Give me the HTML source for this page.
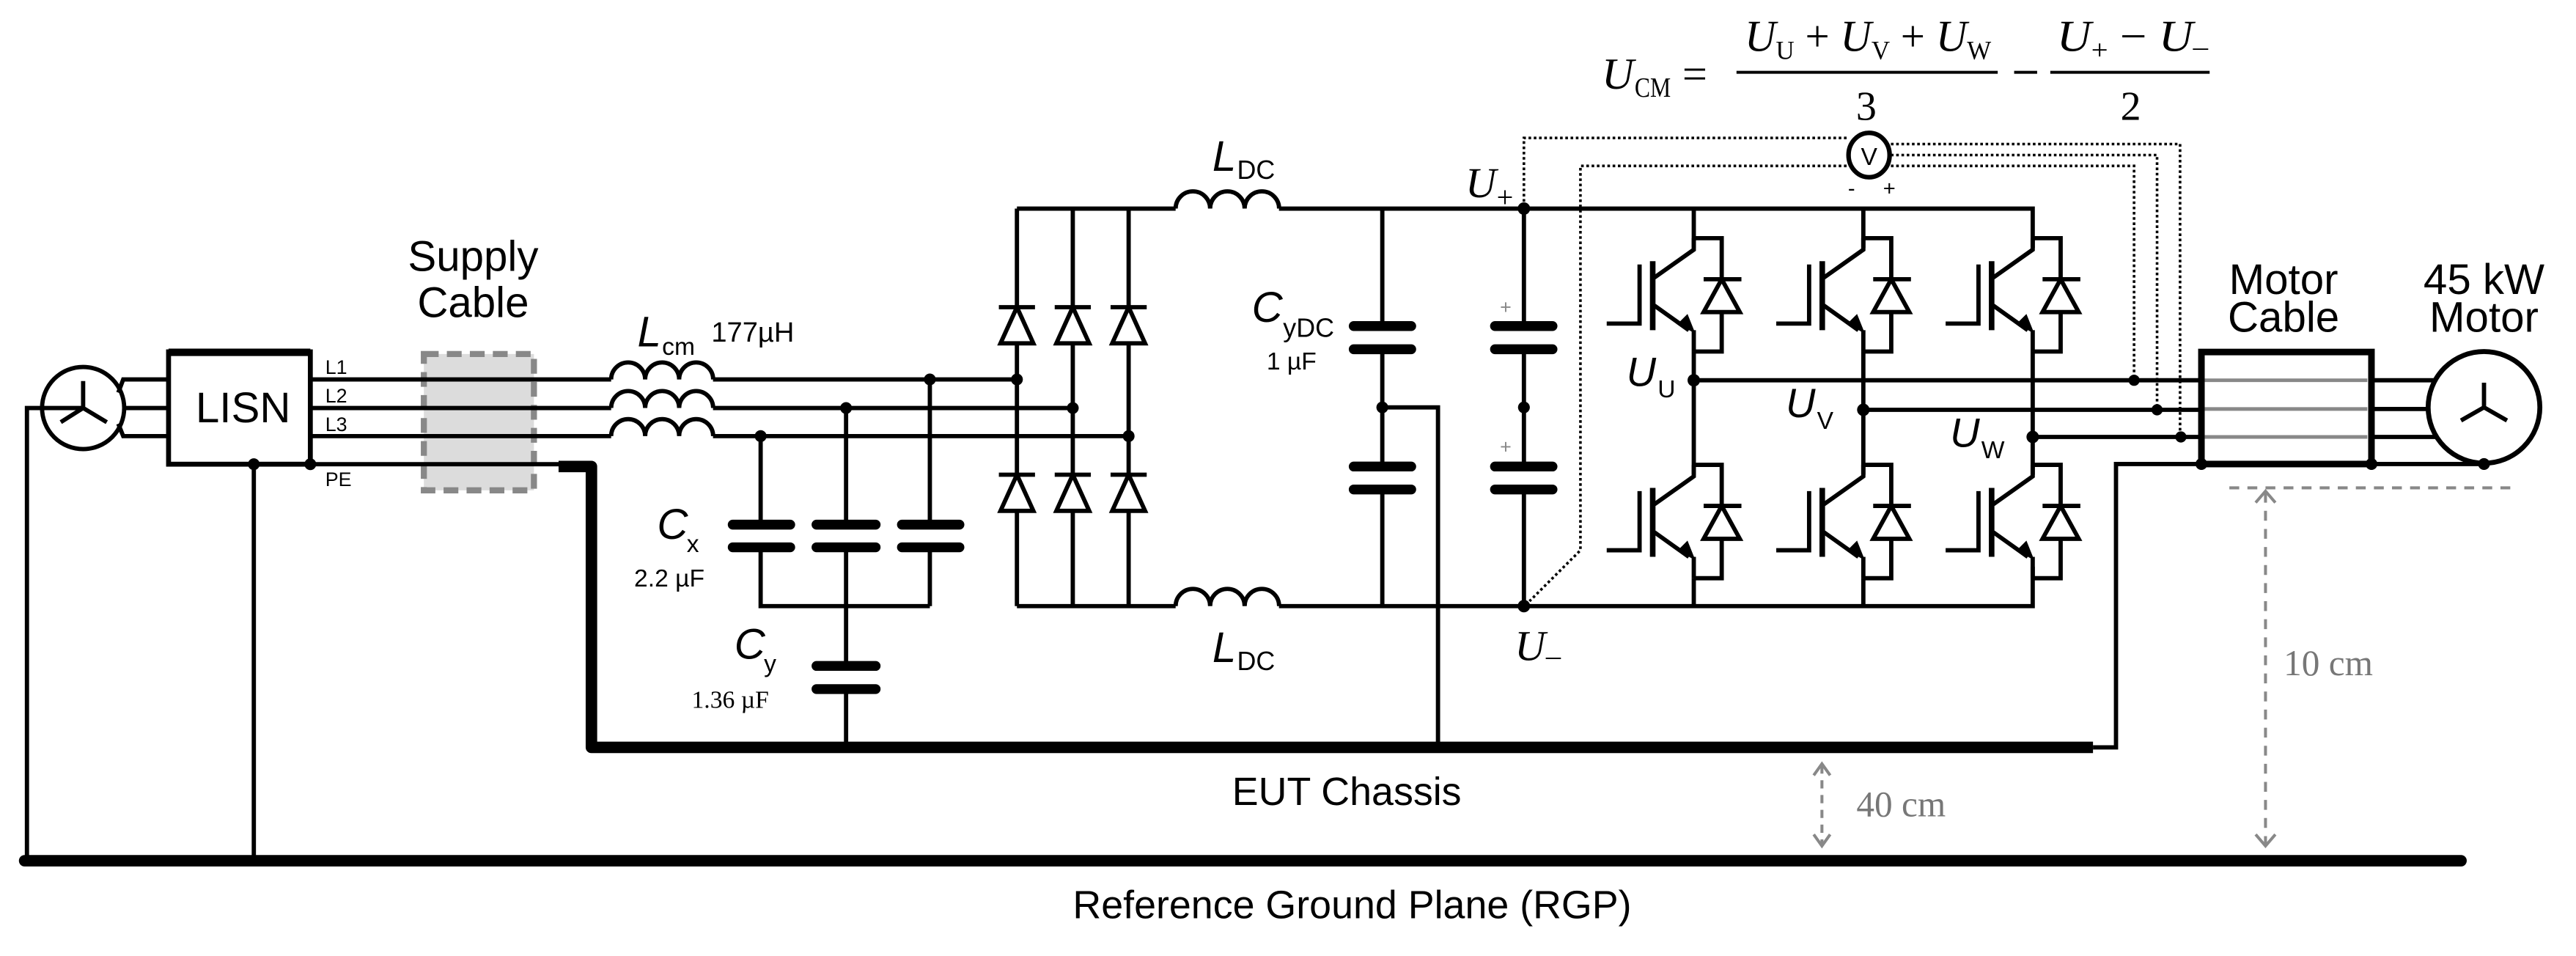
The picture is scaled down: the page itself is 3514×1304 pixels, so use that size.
<!DOCTYPE html>
<html><head><meta charset="utf-8"><style>
html,body{margin:0;padding:0;background:#fff;}
svg{display:block;}
text{font-family:"Liberation Sans",sans-serif;fill:#000;}
.s{font-family:"Liberation Serif",serif;}
</style></head><body>
<svg width="3514" height="1304" viewBox="0 0 1568 582" preserveAspectRatio="none" xmlns="http://www.w3.org/2000/svg">
<defs>
<g id="igbt" fill="none" stroke="#000" stroke-width="2.6">
<path d="M0,0 V7 L-24,24"/>
<path d="M-24,41 L-3,56"/>
<path d="M0,56 V69"/>
<path d="M-25,14 V56" stroke-width="3.4"/>
<path d="M-33,16 V52 H-53"/>
<path d="M0,0 H17 V69 H0"/>
<path d="M6,25 H29" />
<path d="M17,25 L6,45 H28 Z" fill="#fff"/>
<path d="M-9,52 L0,57 L-4,47 Z" fill="#000" stroke-width="1"/>
</g>
<g id="dio" fill="none" stroke="#000" stroke-width="2.6">
<path d="M-11,0 H11"/>
<path d="M0,0 L-10,22 H10 Z" fill="#fff"/>
</g>
</defs>

<!-- Ground planes -->
<line x1="15" y1="524" x2="1498" y2="524" stroke="#000" stroke-width="7" stroke-linecap="round"/>
<path d="M340,284 H360 V455 H1274" fill="none" stroke="#000" stroke-width="7" stroke-linejoin="round"/>
<path d="M1274,455 H1288 V282.5 H1340" fill="none" stroke="#000" stroke-width="2.6"/>

<!-- Source -->
<g fill="none" stroke="#000" stroke-width="2.6">
<circle cx="50.6" cy="248.4" r="25"/>
<path d="M16.4,524 V248.4 H50.6 V232 M50.6,248.4 L37,257 M50.6,248.4 L65,257" />
<path d="M72,239 L75,231 H103 M76,248.4 H103 M72,258 L75,265.5 H103"/>
<path d="M154.5,282.6 V524"/>
</g>
<!-- LISN -->
<rect x="102.6" y="214.2" width="86.3" height="68.4" fill="#fff" stroke="#000" stroke-width="3"/>
<line x1="102.6" y1="214.5" x2="188.9" y2="214.5" stroke="#000" stroke-width="4.5"/>
<text x="148" y="257" font-size="26" text-anchor="middle">LISN</text>
<text x="198" y="227.6" font-size="12">L1</text>
<text x="198" y="245" font-size="12">L2</text>
<text x="198" y="262.5" font-size="12">L3</text>
<text x="198" y="296" font-size="12">PE</text>

<!-- Supply cable -->
<rect x="258" y="215.5" width="67" height="83" fill="#dcdcdc" stroke="#888" stroke-width="3.7" stroke-dasharray="9,5"/>
<text x="288" y="165" font-size="26" text-anchor="middle">Supply</text>
<text x="288" y="193" font-size="26" text-anchor="middle">Cable</text>

<g fill="none" stroke="#000" stroke-width="2.6">
<path d="M188.9,231 H372 M188.9,248.4 H372 M188.9,265.5 H372 M188.9,282.6 H341"/>
<path d="M372,231 a10.35,10.35 0 0 1 20.7,0 a10.35,10.35 0 0 1 20.7,0 a10.35,10.35 0 0 1 20.7,0"/>
<path d="M372,248.4 a10.35,10.35 0 0 1 20.7,0 a10.35,10.35 0 0 1 20.7,0 a10.35,10.35 0 0 1 20.7,0"/>
<path d="M372,265.5 a10.35,10.35 0 0 1 20.7,0 a10.35,10.35 0 0 1 20.7,0 a10.35,10.35 0 0 1 20.7,0"/>
<path d="M434,231 H619 M434,248.4 H653 M434,265.5 H687"/>
<path d="M463,265.5 V319.4 M463,333.2 V369 H566 M515,248.4 V319.4 M515,333.2 V405.4 M515,419.5 V455 M566,231 V319.4 M566,333.2 V369"/>
<g stroke-width="6" stroke-linecap="round">
<path d="M446,319.4 H481 M446,333.2 H481 M497,319.4 H533 M497,333.2 H533 M549,319.4 H584 M549,333.2 H584 M497,405.4 H533 M497,419.5 H533"/>
</g>
</g>
<g fill="#000">
<circle cx="188.9" cy="282.6" r="3.6"/><circle cx="154.5" cy="282.6" r="3.6"/>
<circle cx="463" cy="265.5" r="3.6"/><circle cx="515" cy="248.4" r="3.6"/><circle cx="566" cy="231" r="3.6"/>
<circle cx="619" cy="231" r="3.6"/><circle cx="653" cy="248.4" r="3.6"/><circle cx="687" cy="265.5" r="3.6"/>
</g>
<text x="388" y="211" font-size="26" font-style="italic">L</text>
<text x="403" y="216" font-size="15">cm</text>
<text x="433" y="208" font-size="17">177µH</text>
<text x="400" y="328" font-size="26" font-style="italic">C</text>
<text x="418" y="336" font-size="15">x</text>
<text x="386" y="357" font-size="15">2.2 µF</text>
<text x="447" y="401" font-size="26" font-style="italic">C</text>
<text x="465" y="409" font-size="15">y</text>
<text class="s" x="421" y="431" font-size="15">1.36 µF</text>

<!-- Rectifier -->
<g fill="none" stroke="#000" stroke-width="2.6">
<path d="M619,127 V369 M653,127 V369 M687,127 V369"/>
<path d="M619,127 H715.6 M778.5,127 H1237.3 V151 M619,369 H715.6 M778.5,369 H1237.3 V345"/>
<path d="M715.6,127 a10.5,10.5 0 0 1 21,0 a10.5,10.5 0 0 1 21,0 a10.5,10.5 0 0 1 21,0"/>
<path d="M715.6,369 a10.5,10.5 0 0 1 21,0 a10.5,10.5 0 0 1 21,0 a10.5,10.5 0 0 1 21,0"/>
</g>
<use href="#dio" x="619" y="187"/><use href="#dio" x="653" y="187"/><use href="#dio" x="687" y="187"/>
<use href="#dio" x="619" y="289"/><use href="#dio" x="653" y="289"/><use href="#dio" x="687" y="289"/>
<text x="738" y="104" font-size="26" font-style="italic">L</text>
<text x="753" y="109" font-size="16">DC</text>
<text x="738" y="403" font-size="26" font-style="italic">L</text>
<text x="753" y="408" font-size="16">DC</text>

<!-- CyDC and DC caps -->
<g fill="none" stroke="#000" stroke-width="2.6">
<path d="M841.4,127 V198.5 M841.4,212.6 V284 M841.4,298 V369 M841.4,248 H875.3 V455"/>
<path d="M927.6,127 V198.5 M927.6,212.6 V284 M927.6,298 V369"/>
<g stroke-width="6" stroke-linecap="round">
<path d="M824,198.5 H859 M824,212.6 H859 M824,284 H859 M824,298 H859"/>
<path d="M910,198.5 H945 M910,212.6 H945 M910,284 H945 M910,298 H945"/>
</g>
</g>
<g fill="#000">
<circle cx="841.4" cy="248" r="3.6"/><circle cx="927.6" cy="248" r="3.6"/>
<circle cx="927.6" cy="127" r="3.8"/><circle cx="927.6" cy="369" r="3.8"/>
</g>
<text x="913" y="191" font-size="12" style="fill:#888">+</text>
<text x="913" y="276" font-size="12" style="fill:#888">+</text>
<text x="762" y="196" font-size="26" font-style="italic">C</text>
<text x="781" y="205" font-size="16">yDC</text>
<text x="771" y="225" font-size="15">1 µF</text>
<text class="s" x="892" y="120" font-size="26" font-style="italic">U</text>
<text class="s" x="911" y="126" font-size="18">+</text>
<text class="s" x="922" y="402" font-size="26" font-style="italic">U</text>
<text class="s" x="941" y="405" font-size="18">–</text>

<!-- Inverter -->
<g fill="none" stroke="#000" stroke-width="2.6">
<path d="M1031,127 V151 M1031,214 V289 M1031,352 V369"/>
<path d="M1134.2,127 V151 M1134.2,214 V289 M1134.2,352 V369"/>
<path d="M1237.3,214 V289"/>
<path d="M1031,231.5 H1340 M1134.2,249.5 H1340 M1237.3,266 H1340"/>
</g>
<use href="#igbt" x="1031" y="145"/><use href="#igbt" x="1134.2" y="145"/><use href="#igbt" x="1237.3" y="145"/>
<use href="#igbt" x="1031" y="283"/><use href="#igbt" x="1134.2" y="283"/><use href="#igbt" x="1237.3" y="283"/>
<g fill="#000">
<circle cx="1031" cy="231.5" r="3.8"/><circle cx="1134.2" cy="249.5" r="3.8"/><circle cx="1237.3" cy="266" r="3.8"/>
<circle cx="1299" cy="231.5" r="3.4"/><circle cx="1313" cy="249.5" r="3.4"/><circle cx="1327.5" cy="266" r="3.4"/>
</g>
<text x="990" y="235" font-size="25" font-style="italic">U</text>
<text x="1009" y="242" font-size="15">U</text>
<text x="1087" y="254" font-size="25" font-style="italic">U</text>
<text x="1106" y="261" font-size="15">V</text>
<text x="1187" y="272" font-size="25" font-style="italic">U</text>
<text x="1206" y="279" font-size="15">W</text>

<!-- dotted measurement lines -->
<g fill="none" stroke="#000" stroke-width="1.6" stroke-dasharray="1.6,1.6">
<path d="M1124,84 H927.6 V127"/>
<path d="M1124,101 H962 V335 L931,366"/>
<path d="M1151,87.7 H1327 V266"/>
<path d="M1151,94.4 H1313 V249.5"/>
<path d="M1151,101 H1299 V231.5"/>
</g>
<ellipse cx="1137.7" cy="94.4" rx="12.5" ry="13.5" fill="#fff" stroke="#000" stroke-width="2.8"/>
<text x="1137.7" y="100.5" font-size="15" text-anchor="middle">V</text>
<text x="1127" y="119" font-size="13" text-anchor="middle">-</text>
<text x="1150" y="119" font-size="13" text-anchor="middle">+</text>

<!-- Formula -->
<text class="s" x="975" y="54" font-size="27" font-style="italic">U</text>
<text class="s" x="995" y="59" font-size="17" textLength="22" lengthAdjust="spacingAndGlyphs">CM</text>
<text class="s" x="1024" y="54" font-size="27">=</text>
<text class="s" x="1062" y="31" font-size="27" textLength="150" lengthAdjust="spacingAndGlyphs"><tspan font-style="italic">U</tspan><tspan font-size="16" dy="5">U</tspan><tspan dy="-5"> + </tspan><tspan font-style="italic">U</tspan><tspan font-size="16" dy="5">V</tspan><tspan dy="-5"> + </tspan><tspan font-style="italic">U</tspan><tspan font-size="16" dy="5">W</tspan></text>
<text class="s" x="1136" y="73" font-size="25" text-anchor="middle">3</text>
<text class="s" x="1252" y="31" font-size="27" textLength="92" lengthAdjust="spacingAndGlyphs"><tspan font-style="italic">U</tspan><tspan font-size="17" dy="5">+</tspan><tspan dy="-5"> − </tspan><tspan font-style="italic">U</tspan><tspan font-size="17" dy="3">–</tspan></text>
<text class="s" x="1297" y="73" font-size="25" text-anchor="middle">2</text>
<g stroke="#000" stroke-width="1.8">
<line x1="1057" y1="44" x2="1216" y2="44"/>
<line x1="1226" y1="44" x2="1240" y2="44"/>
<line x1="1248" y1="44" x2="1345" y2="44"/>
</g>

<!-- Motor cable -->
<rect x="1340" y="214.3" width="103.5" height="68.2" fill="#fff" stroke="#000" stroke-width="4"/>
<g stroke="#888" stroke-width="2.2">
<line x1="1342" y1="231.5" x2="1441" y2="231.5"/>
<line x1="1342" y1="249" x2="1441" y2="249"/>
<line x1="1342" y1="266" x2="1441" y2="266"/>
</g>
<g fill="none" stroke="#000" stroke-width="2.6">
<path d="M1443.5,231.5 H1483 M1443.5,249 H1478 M1443.5,266 H1483 M1340,282.5 H1512"/>
<circle cx="1512" cy="248" r="34" stroke-width="3"/>
<path d="M1512,248 V233 M1512,248 L1498,256 M1512,248 L1526,256"/>
</g>
<g fill="#000">
<circle cx="1340" cy="282.5" r="3.6"/><circle cx="1443.5" cy="282.5" r="3.6"/><circle cx="1512" cy="282.5" r="3.6"/>
</g>
<text x="1390" y="179" font-size="26" text-anchor="middle">Motor</text>
<text x="1390" y="202" font-size="26" text-anchor="middle">Cable</text>
<text x="1512" y="179" font-size="26" text-anchor="middle">45 kW</text>
<text x="1512" y="202" font-size="26" text-anchor="middle">Motor</text>

<!-- dimension markers -->
<g fill="none" stroke="#888" stroke-width="1.8">
<line x1="1357" y1="297" x2="1528" y2="297" stroke-dasharray="6,5"/>
<line x1="1379" y1="300" x2="1379" y2="514" stroke-dasharray="6,5"/>
<path d="M1373,306 L1379,299 L1385,306 M1373,508 L1379,515 L1385,508"/>
<line x1="1109" y1="466" x2="1109" y2="514" stroke-dasharray="5,4"/>
<path d="M1104,472 L1109,465 L1114,472 M1104,508 L1109,515 L1114,508"/>
</g>
<text class="s" x="1390" y="411" font-size="22" style="fill:#777">10 cm</text>
<text class="s" x="1130" y="497" font-size="22" style="fill:#777">40 cm</text>

<text x="750" y="490" font-size="24">EUT Chassis</text>
<text x="653" y="559" font-size="24">Reference Ground Plane (RGP)</text>
</svg>
</body></html>
